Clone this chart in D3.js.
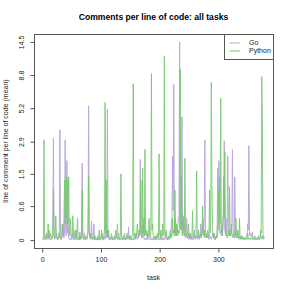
<!DOCTYPE html>
<html>
<head>
<meta charset="utf-8">
<script src="https://cdn.jsdelivr.net/npm/d3@7"></script>
<style>
  body { margin: 0; background: #fff; }
  svg { display: block; font-family: "Liberation Sans", Arial, sans-serif; }
</style>
</head>
<body>
<div id="chart"></div>
<script>
// comment lines per line of code (mean), one value per task, task = 1..378
var goValues = [
  0.03,0.01,0,0.04,0.06,0.03,0,0.01,0.03,0.06,0.01,0.15,0.03,0,0.01,0.03,0.06,0.1,3.1,0.06,
  0.01,0.03,0.04,0.1,0.03,0,0.01,0.03,0.06,3.6,0.1,0.03,0.01,0.06,0.25,0.04,0.03,0.1,3.0,0.15,
  0.06,2.0,0.1,0.35,0.03,0.01,0,0.03,0.01,0,0.03,0.1,0.01,0,0.03,0.01,0.06,0.15,0.03,0,
  0.01,0.03,0,0.12,0.01,0.03,0.06,1.9,0.06,0.01,0.03,0.1,0.01,0,0.01,0.03,0.06,0.15,5.4,0.1,
  0.03,0.01,0.06,0.3,0.03,0.01,0.03,0.25,0.03,0,0.01,0,0.03,0.01,0.06,0,0.01,0.03,0,0.01,
  0.15,0.03,0.01,0,0.03,0.06,0.01,0.25,0.03,0.1,5.1,0.06,0.03,0.01,0,0.03,0.01,0.1,0.03,0,
  0.01,0.03,0,0.06,0.01,0.03,0.06,0.25,0.03,0.01,0,0.03,0.01,0,0.03,0.01,0,0.03,0.01,0.1,
  0.03,0,0.01,0.03,0.06,0.03,0.2,0.03,0.01,0,0.01,0.03,0,0.01,0.03,0,0.01,0.03,0.01,0.1,
  0.03,0.01,0.03,0.06,0.1,0.15,2.05,0.1,0.03,0.06,0.03,0.25,0.03,0.01,0.03,0.01,0,0.03,0.01,0.1,
  0.03,0.01,0,0.01,0.03,0,0.01,0.03,0,0.01,0,0.03,0.01,0.06,0.01,0,0.01,0.03,0,0.01,
  0.03,0,0.01,0.03,0,0.01,0.03,0,0.01,0.1,0.03,0.01,0,0.03,0.01,0.03,0.06,0.15,0.06,0.25,
  0.4,2.2,0.5,7.6,0.25,0.1,0.35,0.06,0.15,0.1,0.25,0.35,0.4,14.5,0.35,0.15,0.25,4.5,0.1,0.25,
  0.4,0.1,0.06,0.03,0.1,0.35,0.06,0.03,0.01,0.1,0.03,0.01,0.06,0.03,0,0.01,0.03,0.06,0.15,0.03,
  0.01,0.03,0.06,0.03,0.01,0.1,0.03,0.01,0.06,0.25,0.06,0.1,0.15,0.35,0.1,0.4,3.0,0.15,0.06,0.03,
  0.06,0.15,0.03,0.01,0.03,0.06,0.03,0.01,0.03,0.06,0.1,0.03,0.01,0.03,0.01,0.06,0.03,0.25,1.7,0.4,
  2.0,0.35,0.1,0.15,0.06,0.25,0.1,0.35,0.4,2.95,0.15,0.1,0.35,0.06,0.25,2.2,0.15,0.1,0.06,0.15,
  0.06,0.1,0.25,2.5,0.15,0.1,0.06,1.4,0.1,0.06,0.03,0.06,0.1,0.03,0.01,0.03,0.06,0.03,0.01,0.06,
  0.03,0.01,0.03,0.01,0.03,0.01,0.03,0.06,0.1,0.25,0.15,2.7,0.1,0.06,0.1,0.06,0.03,0.12,0.03,0.01,
  0.03,0.06,0.03,0.01,0.03,0.03,0.01,0.03,0.01,0,0.03,0.1,0.03,0.01,0.06,0.03,0.01,0.03
];

var pythonValues = [
  0.01,0.03,3.0,0.06,0.03,0.01,0.1,0.03,0.06,0.25,0.04,0.03,0.06,0.1,0.03,0.01,0.03,0.06,1.0,0.1,
  0.03,0.06,0.4,0.1,0.03,0.01,0.04,0.1,0.03,0.06,0.03,0.01,0.06,0.25,0.1,0.06,0.35,1.3,0.25,1.0,
  1.4,0.35,1.3,0.25,1.4,0.15,0.06,0.35,0.1,0.03,0.06,0.4,0.1,0.03,0.06,0.15,0.03,0.01,0.06,0.35,
  0.06,0.03,0.01,0.03,0.06,0.01,0.03,1.0,0.1,0.03,0.01,0.03,0.01,0.06,0.03,0.01,0.06,0.1,1.4,0.15,
  0.06,0.03,0.1,0.03,0.01,0.03,0.01,0.03,0.01,0.06,0.03,0.01,0,0.03,0.01,0.03,0.15,0.03,0.01,0.03,
  0.06,0.1,0.03,0.01,0.06,0.15,5.7,0.1,1.3,0.06,0.15,0.03,0.15,0.06,0.03,0.01,0.03,0.06,0.01,0.03,
  0.01,0.03,0.06,0.03,0.15,0.06,0.03,0.01,0.03,0.1,0.03,0.01,0.06,1.5,0.06,0.03,0.01,0.06,0.03,0.01,
  0.03,0.01,0.03,0.1,0.03,0.01,0.03,0.06,0.01,0.06,0.03,0.01,0.06,0.1,7.7,0.06,0.03,0.1,0.03,0.06,
  0.1,0.25,0.06,0.03,0.15,0.06,0.1,1.3,0.15,0.06,1.7,0.1,0.35,0.06,2.5,0.1,0.06,0.15,0.03,0.06,
  0.1,0.35,0.06,0.03,0.1,9.0,0.15,0.25,0.06,0.03,0.01,0.06,0.03,0.01,0.03,0.1,0.03,0.06,2.3,0.1,
  0.03,0.15,0.06,0.03,0.25,0.06,0.1,11.7,0.1,0.03,0.15,0.06,0.03,0.01,0.06,0.03,0.01,0.03,0.1,0.03,
  0.06,0.35,0.1,0.15,0.06,1.0,0.1,0.06,0.25,0.1,0.06,0.15,0.1,0.25,9.7,0.15,1.4,0.1,0.06,0.35,
  0.1,0.06,2.1,0.15,0.06,0.1,0.03,0.06,0.25,0.1,0.03,0.1,0.06,0.03,0.06,0.5,0.03,0.01,0.06,0.03,
  0.06,0.1,1.6,0.06,0.03,0.15,0.06,0.03,0.06,0.1,0.03,0.06,0.6,0.1,0.06,0.15,0.03,0.06,0.1,0.03,
  0.06,0.03,0.1,0.06,1.0,0.1,0.25,7.85,1.3,0.15,0.06,0.03,0.1,0.03,0.01,0.03,0.06,0.03,0.1,1.0,
  0.15,1.4,0.25,6.1,0.15,0.1,0.06,0.25,1.4,0.35,2.4,0.1,0.06,0.1,0.03,0.06,0.15,0.06,1.1,0.1,
  0.06,0.25,0.1,0.06,0.03,0.1,0.06,0.03,0.1,0.35,0.06,0.03,0.15,0.06,0.03,0.35,0.03,0.01,0.03,0.06,
  0.03,0.01,0.03,0.04,0.01,0.03,0.01,0.03,0.01,0.1,0.03,0.01,0.03,0.01,0.03,0.01,0,0.01,0.03,0.03,
  0.01,0.03,0.01,0,0.01,0.03,0.01,0.06,0.03,0.01,0.03,0.15,0.1,8.6,4.1,0.03,0.06,0.03
];

var xTicks = [0, 100, 200, 300];
var yTicks = [0, 0.6, 1.5, 2.9, 5.2, 8.8, 14.5];
var seriesNames = ["Go", "Python"];
var seriesColors = ["#bba8dc", "#78c970"];

var width = 291, height = 291;
// plot box edges (can't call it "top", that's window.top)
var boxLeft = 34, boxRight = 273, boxTop = 34, boxBottom = 248;

var svg = d3.select("#chart").append("svg")
  .attr("width", width)
  .attr("height", height);

var n = goValues.length;
// R style 4% padding on both axes
var xPad = 0.04 * (n - 1);
var x = d3.scaleLinear()
  .domain([1 - xPad, n + xPad])
  .range([boxLeft, boxRight]);

var maxVal = d3.max(goValues.concat(pythonValues));
var L = Math.log1p(maxVal);
var y = d3.scaleSymlog().constant(1)
  .domain([-Math.expm1(0.04 * L), Math.expm1(1.04 * L)])
  .range([boxBottom, boxTop]);

// lines
var line = d3.line()
  .x(function(d, i) { return x(i + 1); })
  .y(function(d) { return y(d); });

[goValues, pythonValues].forEach(function(vals, k) {
  svg.append("path")
    .datum(vals)
    .attr("fill", "none")
    .attr("stroke", seriesColors[k])
    .attr("stroke-width", 1)
    .attr("stroke-opacity", k == 1 ? 0.9 : 1)
    .attr("d", line);
});

// box
svg.append("rect")
  .attr("x", boxLeft + 0.5)
  .attr("y", boxTop + 0.5)
  .attr("width", boxRight - boxLeft)
  .attr("height", boxBottom - boxTop)
  .attr("fill", "none")
  .attr("stroke", "#555")
  .attr("stroke-width", 1);

// x axis
var xAxis = svg.append("g")
  .attr("transform", "translate(0," + (boxBottom + 0.5) + ")")
  .call(d3.axisBottom(x).tickValues(xTicks).tickSize(4).tickSizeOuter(0));
xAxis.select(".domain").remove();
xAxis.selectAll("line").attr("stroke", "#555");
xAxis.selectAll("text")
  .attr("font-size", 7)
  .attr("fill", "#222")
  .attr("dy", "0.71em")
  .attr("y", 9);

// y axis
var yAxis = svg.append("g")
  .attr("transform", "translate(" + (boxLeft + 0.5) + ",0)")
  .call(d3.axisLeft(y).tickValues(yTicks).tickFormat(function(d) { return d; }).tickSize(4).tickSizeOuter(0));
yAxis.select(".domain").remove();
yAxis.selectAll("line").attr("stroke", "#555");
yAxis.selectAll(".tick text")
  .attr("font-size", 7)
  .attr("fill", "#222")
  .attr("x", null)
  .attr("dy", null)
  .attr("text-anchor", "middle")
  .attr("transform", "translate(-11,0) rotate(-90)");

// titles
svg.append("text")
  .attr("x", 153.5)
  .attr("y", 20)
  .attr("text-anchor", "middle")
  .attr("font-size", 8.6)
  .attr("font-weight", "bold")
  .text("Comments per line of code: all tasks");

svg.append("text")
  .attr("x", 153.5)
  .attr("y", 280)
  .attr("text-anchor", "middle")
  .attr("font-size", 7)
  .attr("fill", "#222")
  .text("task");

svg.append("text")
  .attr("transform", "translate(8," + ((boxTop + boxBottom) / 2) + ") rotate(-90)")
  .attr("text-anchor", "middle")
  .attr("font-size", 7)
  .attr("fill", "#222")
  .text("line of comment per line of code (mean)");

// legend
var legend = svg.append("g");
legend.append("rect")
  .attr("x", 224.5).attr("y", boxTop + 0.5)
  .attr("width", boxRight - 224).attr("height", 25)
  .attr("fill", "#fff")
  .attr("stroke", "#555");

seriesNames.forEach(function(name, k) {
  var ly = 43 + k * 8;
  legend.append("line")
    .attr("x1", 229.5).attr("x2", 240)
    .attr("y1", ly).attr("y2", ly)
    .attr("stroke", seriesColors[k])
    .attr("stroke-width", 1);
  legend.append("text")
    .attr("x", 249)
    .attr("y", ly)
    .attr("dy", "0.35em")
    .attr("font-size", 7)
    .attr("fill", "#222")
    .text(name);
});
</script>
</body>
</html>
